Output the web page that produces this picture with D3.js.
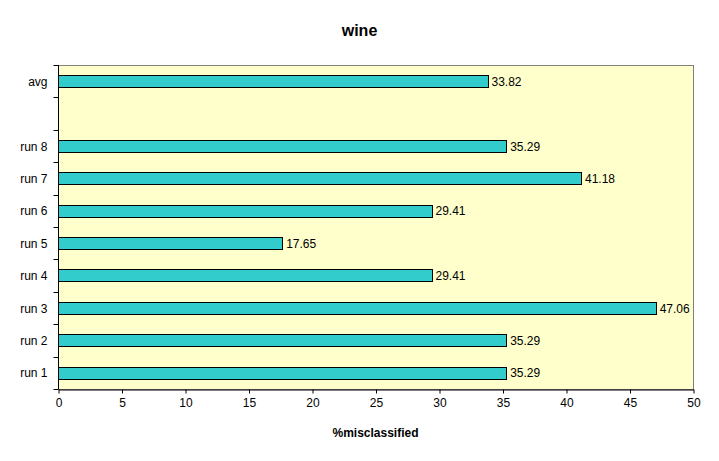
<!DOCTYPE html>
<html>
<head>
<meta charset="utf-8">
<script src="https://d3js.org/d3.v7.min.js"></script>
<style>
  body { margin: 0; background: white; }
  text { font-family: "Liberation Sans", Arial, sans-serif; }
</style>
</head>
<body>
<div id="chart"></div>
<script>
// categories top to bottom, the blank slot sits between avg and run 8
const categories = ["avg", "blank", "run 8", "run 7", "run 6", "run 5", "run 4", "run 3", "run 2", "run 1"];
const labels = ["avg", "", "run 8", "run 7", "run 6", "run 5", "run 4", "run 3", "run 2", "run 1"];
const values = [33.82, null, 35.29, 41.18, 29.41, 17.65, 29.41, 47.06, 35.29, 35.29];
const xTicks = [0, 5, 10, 15, 20, 25, 30, 35, 40, 45, 50];

const w = 719, h = 461;
const plotL = 58, plotR = 693, plotT = 65, plotB = 389;

const svg = d3.select("#chart").append("svg")
  .attr("width", w)
  .attr("height", h);

// plot background
svg.append("rect")
  .attr("x", plotL + 0.5).attr("y", plotT + 0.5)
  .attr("width", plotR - plotL).attr("height", plotB - plotT)
  .attr("fill", "#ffffcc")
  .attr("stroke", "#808080")
  .attr("stroke-width", 1);

const x = d3.scaleLinear().domain([0, 50]).range([plotL, plotR]);
const y = d3.scaleBand().domain(categories).range([plotT, plotB]).paddingInner(0.62).paddingOuter(0.31);
const slot = d3.scaleBand().domain(categories).range([plotT, plotB]);

const data = categories.map((c, i) => ({ key: c, label: labels[i], value: values[i] }))
  .filter(d => d.value !== null);

svg.append("g")
  .selectAll("rect")
  .data(data)
  .enter()
  .append("rect")
  .attr("x", x(0) + 0.5)
  .attr("y", d => Math.round(y(d.key)) + 0.5)
  .attr("width", d => Math.round(x(d.value) - x(0)))
  .attr("height", Math.round(y.bandwidth()))
  .attr("fill", "#33cccc")
  .attr("stroke", "black")
  .attr("stroke-width", 1);

svg.append("g")
  .selectAll("text")
  .data(data)
  .enter()
  .append("text")
  .attr("x", d => x(d.value) + 4)
  .attr("y", d => y(d.key) + y.bandwidth() / 2 + 4.5)
  .attr("font-size", 12)
  .text(d => d.value.toFixed(2));

// x axis
const xAxis = d3.axisBottom(x).tickValues(xTicks).tickSize(4).tickSizeOuter(0).tickPadding(5);
const gx = svg.append("g")
  .attr("transform", "translate(0.5," + (plotB + 0.5) + ")")
  .call(xAxis);
gx.selectAll("text").attr("font-size", 12).attr("font-family", "Liberation Sans, Arial, sans-serif").attr("fill", "black");
gx.select(".domain").attr("stroke", "black");

// y axis: ticks sit on slot boundaries
const gy = svg.append("g").attr("transform", "translate(" + (plotL + 0.5) + ",0)");
gy.append("line")
  .attr("x1", 0).attr("x2", 0)
  .attr("y1", plotT).attr("y2", plotB)
  .attr("stroke", "black");
const bounds = categories.map(c => slot(c)).concat([plotB]);
gy.selectAll(".tk")
  .data(bounds)
  .enter()
  .append("line")
  .attr("x1", -5).attr("x2", 0)
  .attr("y1", d => Math.round(d) + 0.5).attr("y2", d => Math.round(d) + 0.5)
  .attr("stroke", "black");
gy.selectAll(".lbl")
  .data(categories)
  .enter()
  .append("text")
  .attr("x", -11)
  .attr("y", d => slot(d) + slot.bandwidth() / 2 + 4.5)
  .attr("text-anchor", "end")
  .attr("font-size", 12)
  .text((d, i) => labels[i]);

svg.append("text")
  .attr("x", w / 2)
  .attr("y", 36)
  .attr("text-anchor", "middle")
  .attr("font-size", 16)
  .attr("font-weight", "bold")
  .text("wine");

svg.append("text")
  .attr("x", (plotL + plotR) / 2)
  .attr("y", 437)
  .attr("text-anchor", "middle")
  .attr("font-size", 12)
  .attr("font-weight", "bold")
  .text("%misclassified");
</script>
</body>
</html>
